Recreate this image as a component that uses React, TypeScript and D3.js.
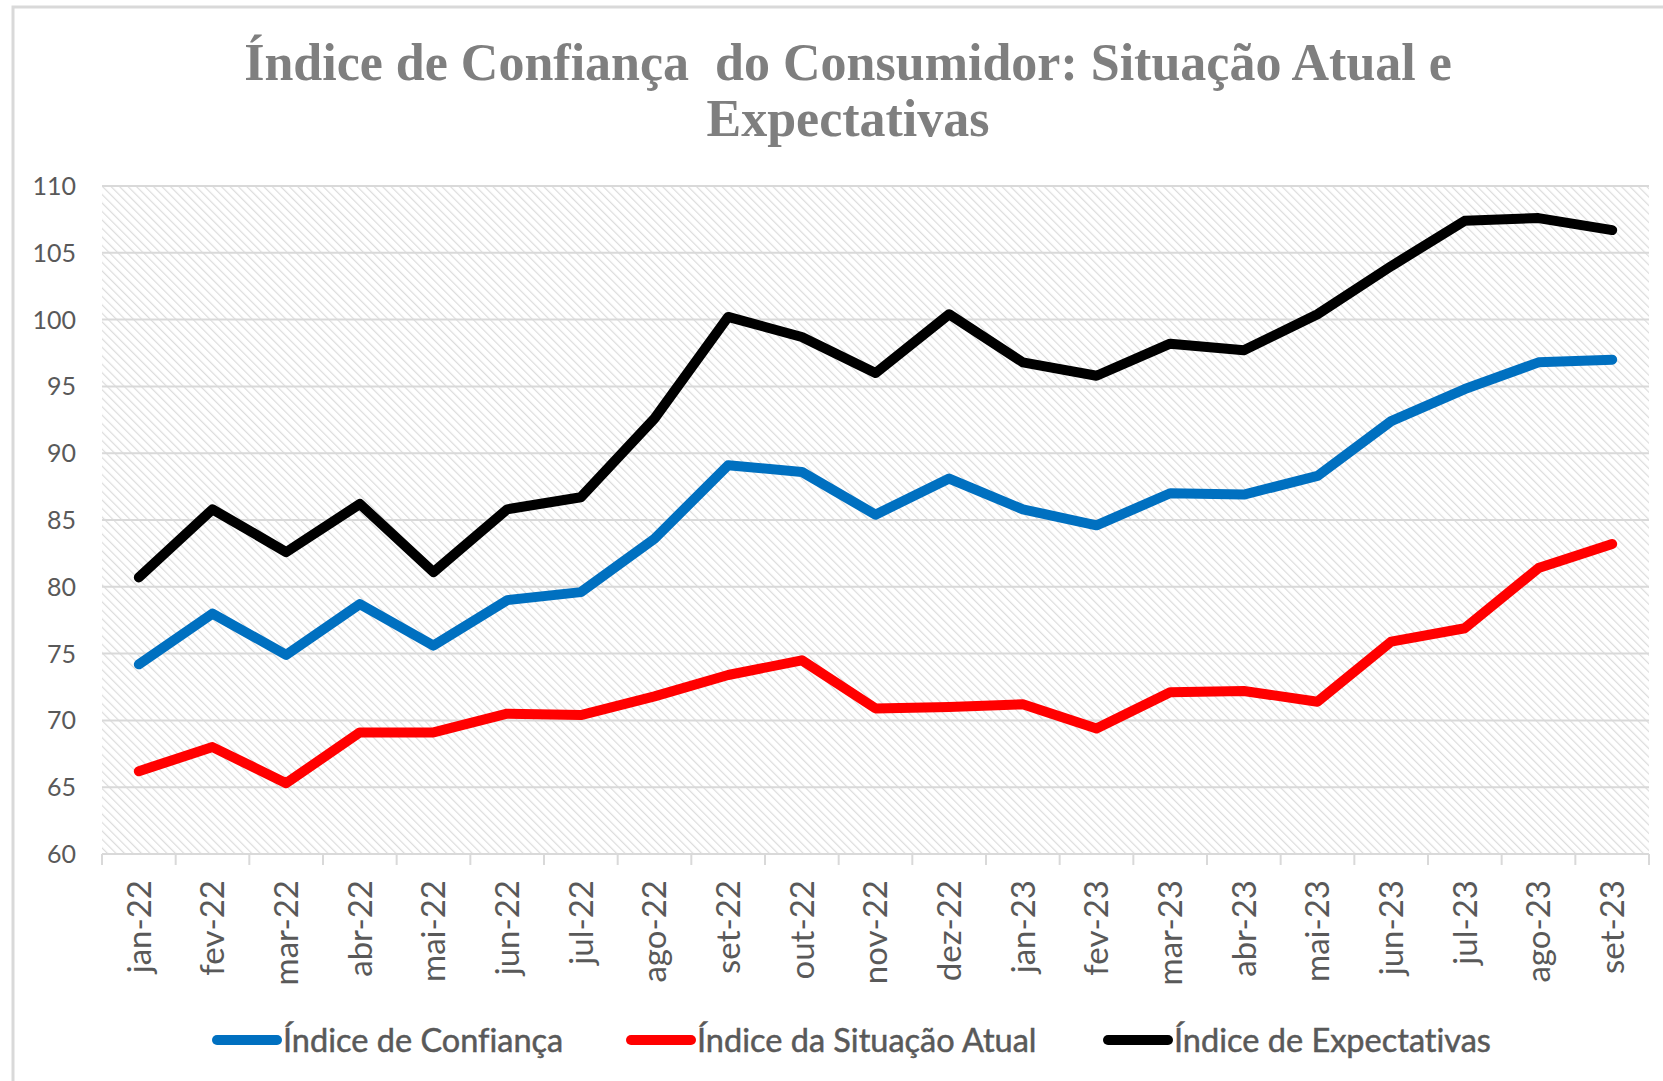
import React from 'react';
import * as d3 from 'd3';

const months = [
  'jan-22', 'fev-22', 'mar-22', 'abr-22', 'mai-22', 'jun-22', 'jul-22', 'ago-22', 'set-22', 'out-22', 'nov-22',
  'dez-22', 'jan-23', 'fev-23', 'mar-23', 'abr-23', 'mai-23', 'jun-23', 'jul-23', 'ago-23', 'set-23',
];
const confianca = [74.2, 78.0, 74.9, 78.7, 75.6, 79.0, 79.6, 83.6, 89.1, 88.6, 85.4, 88.1, 85.8, 84.6, 87.0, 86.9, 88.3, 92.4, 94.8, 96.8, 97.0];
const situacaoAtual = [66.2, 68.0, 65.3, 69.1, 69.1, 70.5, 70.4, 71.8, 73.4, 74.5, 70.9, 71.0, 71.2, 69.4, 72.1, 72.2, 71.4, 75.9, 76.9, 81.4, 83.2];
const expectativas = [80.7, 85.8, 82.6, 86.2, 81.1, 85.8, 86.7, 92.6, 100.2, 98.7, 96.0, 100.4, 96.8, 95.8, 98.2, 97.7, 100.4, 104.0, 107.4, 107.6, 106.7];
const yTicks = [60, 65, 70, 75, 80, 85, 90, 95, 100, 105, 110];

const seriesList = [
  { name: 'Índice de Confiança', values: confianca, color: '#0070C0' },
  { name: 'Índice da Situação Atual', values: situacaoAtual, color: '#FF0000' },
  { name: 'Índice de Expectativas', values: expectativas, color: '#000000' },
];

const W = 1663;
const H = 1081;
const plot = { left: 102, right: 1649, top: 186, bottom: 854 };
const sans = 'Lato, "Open Sans", sans-serif';
const serif = '"Liberation Serif", serif';
const textGray = '#595959';

const App = () => {
  const xScale = d3.scaleBand<string>().domain(months).range([plot.left, plot.right]).padding(0);
  const yScale = d3.scaleLinear().domain([60, 110]).range([plot.bottom, plot.top]);
  const cx = (m: string) => (xScale(m) as number) + xScale.bandwidth() / 2;

  const lineGen = d3.line<number>()
    .x((d, i) => cx(months[i]))
    .y(d => yScale(d));

  const legendX = [212, 626, 1103];

  return (
    <svg width={W} height={H} style={{ position: 'absolute', left: 0, top: 0, background: '#fff', fontVariantLigatures: 'none' }}>
      <defs>
        <pattern id="hatch" width="6" height="6" patternUnits="userSpaceOnUse" patternTransform="rotate(-45)">
          <rect width="6" height="6" fill="#ffffff" />
          <line x1="0" y1="0" x2="0" y2="6" stroke="#dcdcdc" strokeWidth="2.4" />
        </pattern>
      </defs>

      <rect x={13} y={7} width={W} height={H} fill="#fff" stroke="#d9d9d9" strokeWidth={3} />

      {/* titulo em duas linhas, com o espaço duplo do original */}
      <text x={848} y={80} textAnchor="middle" fill="#7f7f7f" fontFamily={serif} fontWeight="bold" fontSize={52}
        style={{ whiteSpace: 'pre' }}>
        {'Índice de Confiança  do Consumidor: Situação Atual e'}
      </text>
      <text x={848} y={136} textAnchor="middle" fill="#7f7f7f" fontFamily={serif} fontWeight="bold" fontSize={52}>
        Expectativas
      </text>

      <rect x={plot.left} y={plot.top} width={plot.right - plot.left} height={plot.bottom - plot.top} fill="url(#hatch)" />

      {yTicks.map(t => (
        <g key={t}>
          {t !== 60 && (
            <line x1={plot.left} x2={plot.right} y1={yScale(t)} y2={yScale(t)} stroke="#d9d9d9" strokeWidth={2} />
          )}
          <text x={76} y={yScale(t)} dy="0.36em" textAnchor="end" fill={textGray} fontFamily={sans} fontSize={25}>
            {t}
          </text>
        </g>
      ))}

      <line x1={plot.left} x2={plot.right} y1={plot.bottom} y2={plot.bottom} stroke="#d9d9d9" strokeWidth={2} />
      {months.concat(['end']).map((m, i) => {
        const x = i < months.length ? (xScale(m) as number) : plot.right;
        return <line key={m + i} x1={x} x2={x} y1={plot.bottom} y2={plot.bottom + 11} stroke="#d9d9d9" strokeWidth={2} />;
      })}
      {months.map(m => (
        <text key={m} transform={`translate(${cx(m)},880) rotate(-90)`} dy="0.36em" textAnchor="end"
          fill={textGray} fontFamily={sans} fontSize={33}>
          {m}
        </text>
      ))}

      {seriesList.map(s => (
        <path key={s.name} d={lineGen(s.values) || ''} fill="none" stroke={s.color} strokeWidth={10}
          strokeLinejoin="round" strokeLinecap="round" />
      ))}

      {seriesList.map((s, i) => (
        <g key={s.name}>
          <line x1={legendX[i] + 5} x2={legendX[i] + 65} y1={1040} y2={1040} stroke={s.color} strokeWidth={10} strokeLinecap="round" />
          <text x={legendX[i] + 71} y={1040} dy="0.36em" fill={textGray} stroke={textGray} strokeWidth={0.5}
            fontFamily={sans} fontSize={32.5}>
            {s.name}
          </text>
        </g>
      ))}
    </svg>
  );
};

export default App;
